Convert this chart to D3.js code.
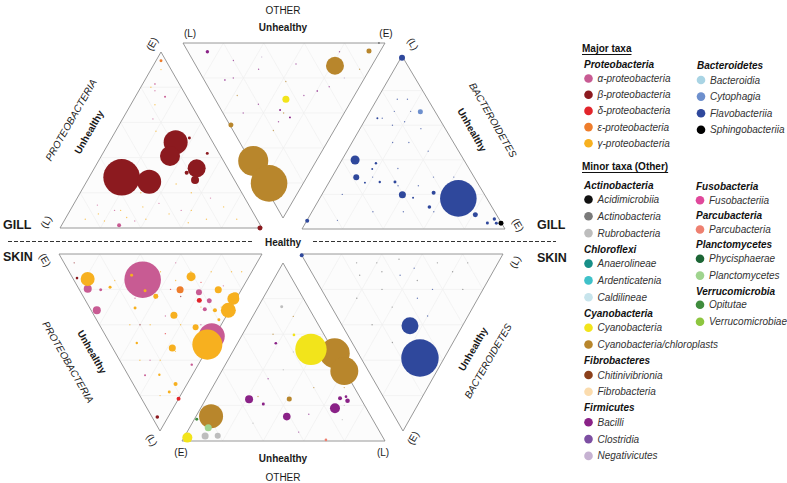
<!DOCTYPE html>
<html>
<head>
<meta charset="utf-8">
<script src="https://cdn.jsdelivr.net/npm/d3@7.9.0/dist/d3.min.js"></script>
<style>
  body { margin: 0; background: #fff; }
  svg { display: block; font-family: "Liberation Sans", Arial, sans-serif; }
</style>
</head>
<body>
<svg width="787" height="483"></svg>
<script>
// class codes -> legend names
const classCodes = ["pa","pb","pd","pe","pg","bb","bc","bf","bs","ac","at","ar","ca","cr","cc","cy","cp","fc","ff","mb","mc","mn","fu","pc","ph","pl","vo","vv"];
const classColors = ["#c85b93","#8c1a1f","#e2242b","#ee7d2c","#f7b01f","#a9d4e4","#6d8fcd","#2f489c","#000000","#111111","#7a7a7a","#bdbdbd","#178f88","#3fc1c9","#c7e4ec","#f2e41b","#b8862c","#8b401b","#fbdcae","#8a2287","#7d4fa2","#c6b2d2","#e0489b","#ee8070","#1c6535","#9fd48e","#3f8c3d","#8dc63f"];

// legend contents
const proteoClasses = [["pa","α-proteobacteria"],["pb","β-proteobacteria"],["pd","δ-proteobacteria"],["pe","ε-proteobacteria"],["pg","γ-proteobacteria"]];
const bacteroClasses = [["bb","Bacteroidia"],["bc","Cytophagia"],["bf","Flavobacteriia"],["bs","Sphingobacteriia"]];
const minorLeft = [
  ["Actinobacteria", [["ac","Acidimicrobiia"],["at","Actinobacteria"],["ar","Rubrobacteria"]]],
  ["Chloroflexi", [["ca","Anaerolineae"],["cr","Ardenticatenia"],["cc","Caldilineae"]]],
  ["Cyanobacteria", [["cy","Cyanobacteria"],["cp","Cyanobacteria/chloroplasts"]]],
  ["Fibrobacteres", [["fc","Chitinivibrionia"],["ff","Fibrobacteria"]]],
  ["Firmicutes", [["mb","Bacilli"],["mc","Clostridia"],["mn","Negativicutes"]]]
];
const minorRight = [
  ["Fusobacteria", [["fu","Fusobacteriia"]]],
  ["Parcubacteria", [["pc","Parcubacteria"]]],
  ["Planctomycetes", [["ph","Phycisphaerae"],["pl","Planctomycetes"]]],
  ["Verrucomicrobia", [["vo","Opitutae"],["vv","Verrucomicrobiae"]]]
];

// bubbles: [class, healthy, early, late, relative abundance]
const gillProteo = [
  ["pb",0.161,0.288,0.551,20.9],["pb",0.310,0.263,0.427,9],["pb",0.329,0.487,0.184,9],
  ["pb",0.340,0.409,0.251,6.25],["pb",0.507,0.339,0.154,5.06],["pb",0.532,0.273,0.195,1],
  ["pb",0.470,0.314,0.216,0.25],["pb",0.517,0.424,0.059,0.14],["pb",0.385,0.511,0.104,0.14],
  ["pb",0.99,0.0,0.01,0.39],["pa",0.285,0.015,0.70,0.25],["pe",0.025,0.95,0.025,0.14],
  ["pa",0.147,0.746,0.107,0.06],["pa",0.061,0.818,0.121,0.04]
];
const gillOther = [
  ["cp",0.674,0.014,0.312,14.1],["cp",0.802,0.029,0.169,20.9],["cp",0.130,0.688,0.182,5.06],
  ["cp",0.046,0.898,0.056,0.39],["cp",0.469,0.005,0.526,0.39],["cy",0.322,0.350,0.328,0.77],
  ["mb",0.05,0.096,0.854,0.18],["mb",0.383,0.291,0.326,0.06],["mb",0.425,0.319,0.256,0.06],
  ["mb",0.211,0.103,0.686,0.04],["mb",0.274,0.529,0.197,0.04],["at",0.0,0.97,0.03,0.06]
];
const gillBactero = [
  ["bf",0.140,0.683,0.177,20.9],["bf",0.536,0.065,0.399,1.27],["bf",0.581,0.120,0.299,0.56],
  ["bf",0.405,0.397,0.198,0.77],["bf",0.245,0.545,0.210,0.25],["bf",0.104,0.813,0.083,0.39],
  ["bf",0.308,0.565,0.127,0.2],["bf",0.005,0.005,0.99,0.56],["bf",0.95,0.002,0.048,0.25],
  ["bc",0.073,0.249,0.678,0.39],["bf",0.023,0.919,0.058,0.18],["bf",0.069,0.896,0.035,0.14],
  ["bf",0.026,0.941,0.033,0.14],["bs",0.003,0.964,0.033,0.39],["bf",0.443,0.177,0.380,0.09],
  ["bf",0.478,0.175,0.347,0.06],["bf",0.404,0.324,0.272,0.14],["bf",0.479,0.249,0.272,0.09],
  ["bf",0.361,0.458,0.181,0.06],["bf",0.554,0.178,0.268,0.06],["bf",0.304,0.056,0.640,0.06]
];
const skinProteo = [
  ["pa",0.340,0.515,0.145,20.9],["pg",0.298,0.582,0.120,0.14],["pg",0.321,0.472,0.207,0.14],
  ["pa",0.521,0.014,0.465,10.6],["pg",0.476,0.012,0.512,14.1],
  ["pg",0.676,0.006,0.318,3.5],["pg",0.733,0.014,0.253,2.25],["pg",0.748,0.013,0.239,1],
  ["pa",0.044,0.76,0.196,1],["pg",0.071,0.788,0.141,3.06],["pa",0.028,0.654,0.318,1],
  ["pg",0.587,0.285,0.128,1.27],["pe",0.496,0.302,0.202,0.77],["pg",0.394,0.26,0.346,0.77],
  ["pg",0.294,0.175,0.531,0.77],["pg",0.684,0.114,0.202,0.77],["pg",0.467,0.119,0.414,0.56],
  ["pg",0.358,0.403,0.239,0.39],["pa",0.582,0.202,0.216,0.56],["pd",0.561,0.177,0.262,0.39],
  ["pa",0.609,0.127,0.264,0.39],["pa",0.563,0.125,0.312,0.25],["pg",0.61,0.072,0.318,0.25],
  ["pd",0.182,0.0,0.818,0.25],["pg",0.209,0.057,0.734,0.25],["pb",0.026,0.053,0.921,0.2],
  ["pb",0.021,0.843,0.136,0.11],["pg",0.223,0.472,0.305,0.14],["pg",0.158,0.654,0.188,0.14],
  ["pa",0.105,0.693,0.202,0.14],["pg",0.133,0.364,0.503,0.09],["pg",0.155,0.065,0.78,0.14],
  ["pg",0.155,0.163,0.682,0.09],["pa",0.083,0.232,0.685,0.06],["pg",0.603,0.026,0.371,0.14],
  ["pa",0.343,0.032,0.625,0.09]
];
const skinOther = [
  ["cp",0.493,0.0,0.507,14.1],["cp",0.393,0.003,0.604,12.25],["cy",0.515,0.106,0.379,15.4],
  ["cp",0.139,0.787,0.074,9],["pl",0.075,0.833,0.092,0.77],["ar",0.028,0.872,0.1,0.77],
  ["ar",0.03,0.809,0.161,0.56],["cy",0.019,0.964,0.017,1.56],["vo",0.122,0.866,0.012,0.14],
  ["mb",0.234,0.552,0.214,1],["mb",0.137,0.415,0.448,0.9],["mb",0.184,0.154,0.662,1.56],
  ["mb",0.24,0.101,0.659,0.25],["mb",0.226,0.071,0.703,0.33],["mb",0.249,0.067,0.684,0.11],
  ["mb",0.208,0.495,0.297,0.14],["mb",0.549,0.262,0.189,0.11],["cp",0.236,0.353,0.411,0.39],
  ["ar",0.754,0.13,0.116,0.14],["pc",0.006,0.288,0.706,0.11],["cy",0.596,0.149,0.255,0.11]
];
const skinBactero = [
  ["bf",0.12,0.588,0.292,21.9],["bf",0.26,0.405,0.335,4.5],["bf",0.993,0.007,0.0,0.25]
];

// tiny low-abundance OTUs: [class, healthy, early, late]
const gillProteoSpecks = [
  ["pg",0.10,0.05,0.85],["pg",0.15,0.08,0.77],["pg",0.20,0.04,0.76],["pg",0.25,0.10,0.65],["pg",0.30,0.06,0.64],
  ["pg",0.35,0.12,0.53],["pg",0.40,0.05,0.55],["pg",0.50,0.08,0.42],["pg",0.60,0.10,0.30],["pg",0.70,0.05,0.25],
  ["pg",0.75,0.12,0.13],["pg",0.55,0.20,0.25],["pg",0.05,0.90,0.05],["pg",0.05,0.80,0.15],["pg",0.12,0.70,0.18],
  ["pg",0.20,0.55,0.25],["pg",0.45,0.25,0.30],["pg",0.62,0.03,0.35],["pg",0.85,0.05,0.10],["pg",0.30,0.20,0.50],
  ["pa",0.12,0.13,0.75],["pa",0.22,0.10,0.68],["pa",0.08,0.78,0.14],["pa",0.35,0.04,0.61],["pa",0.55,0.10,0.35],
  ["pa",0.15,0.62,0.23],["pa",0.66,0.17,0.17],["pa",0.42,0.14,0.44]
];
const gillOtherSpecks = [
  ["mb",0.10,0.20,0.70],["mb",0.15,0.30,0.55],["mb",0.20,0.15,0.65],["mb",0.30,0.45,0.25],["mb",0.25,0.60,0.15],
  ["mb",0.40,0.10,0.50],["mb",0.45,0.25,0.30],["mb",0.12,0.50,0.38],["mb",0.35,0.20,0.45],["mb",0.05,0.75,0.20],
  ["cp",0.30,0.12,0.58],["cp",0.40,0.30,0.30],["cp",0.15,0.80,0.05],["cp",0.50,0.20,0.30],["cp",0.22,0.40,0.38],
  ["mn",0.08,0.35,0.57],["mn",0.20,0.70,0.10]
];
const gillBacteroSpecks = [
  ["bf",0.15,0.10,0.75],["bf",0.20,0.12,0.68],["bf",0.12,0.20,0.68],["bf",0.10,0.15,0.75],["bf",0.18,0.20,0.62],
  ["bf",0.25,0.15,0.60],["bf",0.30,0.20,0.50],["bf",0.22,0.28,0.50],["bf",0.35,0.30,0.35],["bf",0.40,0.35,0.25],
  ["bf",0.30,0.45,0.25],["bf",0.20,0.50,0.30],["bf",0.15,0.40,0.45],["bf",0.50,0.20,0.30],["bf",0.45,0.45,0.10],
  ["bf",0.60,0.30,0.10],["bf",0.10,0.60,0.30],["bf",0.05,0.70,0.25],["bf",0.70,0.10,0.20],["bf",0.80,0.15,0.05],
  ["bf",0.30,0.60,0.10],["bf",0.12,0.30,0.58],["bf",0.08,0.25,0.67],["bf",0.28,0.08,0.64]
];
const skinProteoSpecks = [
  ["pg",0.30,0.60,0.10],["pg",0.45,0.45,0.10],["pg",0.50,0.35,0.15],["pg",0.60,0.30,0.10],["pg",0.70,0.20,0.10],
  ["pg",0.20,0.65,0.15],["pg",0.35,0.40,0.25],["pg",0.55,0.15,0.30],["pg",0.25,0.35,0.40],["pg",0.40,0.20,0.40],
  ["pg",0.15,0.45,0.40],["pg",0.30,0.15,0.55],["pg",0.20,0.20,0.60],["pg",0.10,0.30,0.60],["pg",0.65,0.05,0.30],
  ["pg",0.80,0.10,0.10],["pg",0.85,0.05,0.10],["pg",0.45,0.05,0.50],["pg",0.10,0.10,0.80],
  ["pa",0.40,0.50,0.10],["pa",0.55,0.40,0.05],["pa",0.25,0.50,0.25],["pa",0.35,0.30,0.35],["pa",0.50,0.10,0.40],
  ["pa",0.15,0.25,0.60],["pa",0.72,0.10,0.18],["pd",0.45,0.35,0.20],["pd",0.30,0.25,0.45],["pd",0.62,0.22,0.16],
  ["pb",0.05,0.90,0.05],["pb",0.48,0.28,0.24],["pb",0.20,0.40,0.40]
];
const skinOtherSpecks = [
  ["ar",0.50,0.20,0.30],["cp",0.60,0.25,0.15],["ar",0.40,0.30,0.30],["mb",0.35,0.40,0.25],["cp",0.30,0.20,0.50],
  ["ar",0.20,0.10,0.70],["mb",0.15,0.30,0.55],["cp",0.25,0.50,0.25],["ar",0.10,0.60,0.30],["cp",0.70,0.10,0.20],
  ["ar",0.45,0.10,0.45],["mb",0.05,0.40,0.55],["ar",0.12,0.15,0.73],["cp",0.30,0.05,0.65]
];
const skinBacteroSpecks = [
  ["at",0.60,0.05,0.35],["at",0.50,0.03,0.47],["bf",0.40,0.08,0.52],["at",0.30,0.05,0.65],["at",0.20,0.10,0.70],
  ["bf",0.45,0.12,0.43],["at",0.35,0.15,0.50],["at",0.55,0.10,0.35],["bf",0.25,0.20,0.55],["at",0.65,0.12,0.23],
  ["at",0.70,0.05,0.25],["at",0.15,0.05,0.80],["bf",0.30,0.25,0.45],["at",0.50,0.20,0.30],["at",0.40,0.30,0.30],
  ["at",0.60,0.25,0.15],["bf",0.20,0.35,0.45],["at",0.10,0.20,0.70],["at",0.45,0.40,0.15],["at",0.30,0.50,0.20]
];

// triangle corners (Healthy, Early, Late) in page pixels
const panels = [
  { H: [262,228], E: [161,52],  L: [60,228],  bubbles: gillProteo,  specks: gillProteoSpecks },
  { H: [283,218], E: [385,43],  L: [183,43],  bubbles: gillOther,   specks: gillOtherSpecks },
  { H: [302,229], E: [505,229], L: [402,56],  bubbles: gillBactero, specks: gillBacteroSpecks },
  { H: [262,254], E: [59,254],  L: [160,431], bubbles: skinProteo,  specks: skinProteoSpecks },
  { H: [283,263], E: [182,441], L: [385,441], bubbles: skinOther,   specks: skinOtherSpecks },
  { H: [301,254], E: [403,431], L: [503,254], bubbles: skinBactero, specks: skinBacteroSpecks }
];

const svg = d3.select("svg");
const color = d3.scaleOrdinal().domain(classCodes).range(classColors);
const rScale = d3.scaleSqrt().domain([0, 25]).range([0, 20]);

function project(p, h, e, l) {
  return [h * p.H[0] + e * p.E[0] + l * p.L[0], h * p.H[1] + e * p.E[1] + l * p.L[1]];
}

panels.forEach(p => {
  const g = svg.append("g");
  g.append("path")
    .attr("d", d3.line()([p.H, p.E, p.L]) + "Z")
    .attr("fill", "#fcfcfc")
    .attr("stroke", "none");
  // grid every 0.2
  for (let k = 1; k < 5; k++) {
    const t = k / 5;
    const segs = [
      [project(p, t, 1 - t, 0), project(p, t, 0, 1 - t)],
      [project(p, 1 - t, t, 0), project(p, 0, t, 1 - t)],
      [project(p, 1 - t, 0, t), project(p, 0, 1 - t, t)]
    ];
    segs.forEach(s => {
      g.append("line")
        .attr("x1", s[0][0]).attr("y1", s[0][1])
        .attr("x2", s[1][0]).attr("y2", s[1][1])
        .attr("stroke", "#efefef").attr("stroke-width", 0.7);
    });
  }
  g.append("path")
    .attr("d", d3.line()([p.H, p.E, p.L]) + "Z")
    .attr("fill", "none")
    .attr("stroke", "#8c8c8c")
    .attr("stroke-width", 0.9);

  g.selectAll("circle.speck")
    .data(p.specks)
    .join("circle")
    .attr("class", "speck")
    .attr("cx", d => project(p, d[1], d[2], d[3])[0])
    .attr("cy", d => project(p, d[1], d[2], d[3])[1])
    .attr("r", rScale(0.03))
    .attr("fill", d => color(d[0]))
    .attr("opacity", 0.7);

  g.selectAll("circle.bubble")
    .data(p.bubbles)
    .join("circle")
    .attr("class", "bubble")
    .attr("cx", d => project(p, d[1], d[2], d[3])[0])
    .attr("cy", d => project(p, d[1], d[2], d[3])[1])
    .attr("r", d => rScale(d[4]))
    .attr("fill", d => color(d[0]));
});

// dashed divider
[[8, 252], [313, 556]].forEach(([x1, x2]) => {
  svg.append("line")
    .attr("x1", x1).attr("x2", x2).attr("y1", 241.5).attr("y2", 241.5)
    .attr("stroke", "#333").attr("stroke-width", 1).attr("stroke-dasharray", "4,2");
});

// annotation labels: [text, x, y, rotation, weight, style, size, anchor]
const labels = [
  ["OTHER", 283, 10, 0, "normal", "normal", 10, "middle"],
  ["Unhealthy", 283, 27, 0, "bold", "normal", 10, "middle"],
  ["(L)", 190, 33, 0, "normal", "normal", 10, "middle"],
  ["(E)", 386, 33, 0, "normal", "normal", 10, "middle"],
  ["(E)", 152, 44, -60, "normal", "normal", 10, "middle"],
  ["PROTEOBACTERIA", 71, 120, -60, "normal", "italic", 10, "middle"],
  ["Unhealthy", 89, 132, -60, "bold", "normal", 10, "middle"],
  ["(L)", 46, 222, -60, "normal", "normal", 10, "middle"],
  ["GILL", 3, 225, 0, "bold", "normal", 12.5, "start"],
  ["(L)", 413, 44, 60, "normal", "normal", 10, "middle"],
  ["BACTEROIDETES", 493, 120, 60, "normal", "italic", 10, "middle"],
  ["Unhealthy", 472, 130, 60, "bold", "normal", 10, "middle"],
  ["(E)", 518, 225, 60, "normal", "normal", 10, "middle"],
  ["GILL", 537, 225, 0, "bold", "normal", 12.5, "start"],
  ["Healthy", 283, 242, 0, "bold", "normal", 10, "middle"],
  ["SKIN", 3, 257, 0, "bold", "normal", 12.5, "start"],
  ["SKIN", 537, 258, 0, "bold", "normal", 12.5, "start"],
  ["(E)", 45, 260, 60, "normal", "normal", 10, "middle"],
  ["PROTEOBACTERIA", 68, 362, 60, "normal", "italic", 10, "middle"],
  ["Unhealthy", 92, 352, 60, "bold", "normal", 10, "middle"],
  ["(L)", 152, 440, 60, "normal", "normal", 10, "middle"],
  ["(E)", 181, 452, 0, "normal", "normal", 10, "middle"],
  ["Unhealthy", 283, 458, 0, "bold", "normal", 10, "middle"],
  ["OTHER", 283, 477, 0, "normal", "normal", 10, "middle"],
  ["(L)", 383, 452, 0, "normal", "normal", 10, "middle"],
  ["(L)", 515, 262, -60, "normal", "normal", 10, "middle"],
  ["Unhealthy", 473, 349, -60, "bold", "normal", 10, "middle"],
  ["BACTEROIDETES", 488, 361, -60, "normal", "italic", 10, "middle"],
  ["(E)", 413, 438, -60, "normal", "normal", 10, "middle"]
];
svg.append("g").selectAll("text")
  .data(labels)
  .join("text")
  .attr("transform", d => `translate(${d[1]},${d[2]}) rotate(${d[3]})`)
  .attr("text-anchor", d => d[7])
  .attr("dominant-baseline", "central")
  .attr("font-weight", d => d[4])
  .attr("font-style", d => d[5])
  .attr("font-size", d => d[6])
  .attr("fill", "#1a1a1a")
  .text(d => d[0]);

// legend
const leg = svg.append("g").attr("font-size", 10).attr("fill", "#222");
function header(text, x, y, underline) {
  leg.append("text").attr("x", x).attr("y", y).attr("dominant-baseline", "central")
    .attr("font-weight", "bold").attr("font-style", underline ? "normal" : "italic")
    .attr("text-decoration", underline ? "underline" : null)
    .attr("fill", "#111").text(text);
}
function item(code, label, x, y) {
  leg.append("circle").attr("cx", x + 4.5).attr("cy", y).attr("r", 4.3).attr("fill", color(code));
  leg.append("text").attr("x", x + 13.5).attr("y", y).attr("dominant-baseline", "central")
    .attr("font-style", "italic").attr("fill", "#333").text(label);
}

header("Major taxa", 582, 48.5, true);
header("Proteobacteria", 584, 64.5, false);
proteoClasses.forEach((c, i) => item(c[0], c[1], 584, 78.5 + i * 16.2));
header("Bacteroidetes", 697, 65.5, false);
bacteroClasses.forEach((c, i) => item(c[0], c[1], 696.5, 80 + i * 16.6));

header("Minor taxa (Other)", 582, 166.5, true);
let y = 185;
minorLeft.forEach(([phylum, classes]) => {
  header(phylum, 584, y, false);
  y += 14.5;
  classes.forEach(c => { item(c[0], c[1], 584, y); y += 16.8; });
  y -= 0.8;
});
y = 186.5;
minorRight.forEach(([phylum, classes]) => {
  header(phylum, 696, y, false);
  y += 13.8;
  classes.forEach(c => { item(c[0], c[1], 695.5, y); y += 16.9; });
  y -= 1.5;
});
</script>
</body>
</html>
